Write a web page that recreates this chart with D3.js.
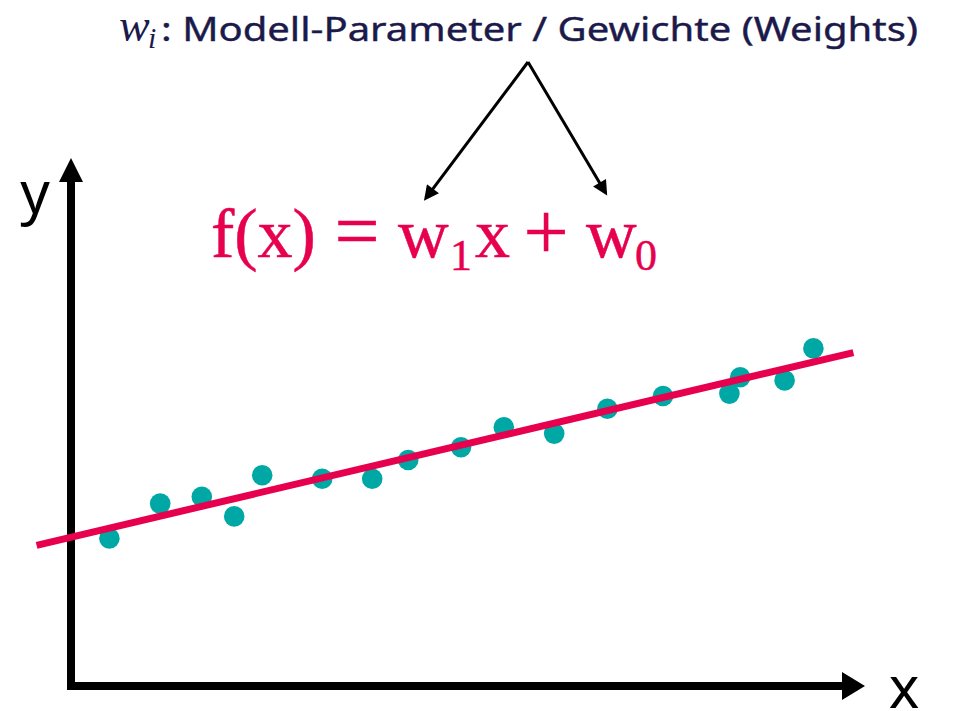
<!DOCTYPE html>
<html>
<head>
<meta charset="utf-8">
<script src="https://cdn.jsdelivr.net/npm/d3@7"></script>
<style>
  html, body { margin: 0; padding: 0; background: #fff; }
  svg { display: block; }
</style>
</head>
<body>
<div id="container"></div>
<script>
// values, in "chart units" (roughly 40px per unit)
const pointsX = [0.96, 2.23, 3.27, 4.08, 4.78, 6.28, 7.53, 8.43, 9.75, 10.82, 12.08, 13.41, 14.80, 16.46, 16.73, 17.84, 18.56];
const pointsY = [3.69, 4.56, 4.73, 4.24, 5.27, 5.18, 5.18, 5.65, 5.97, 6.47, 6.31, 6.93, 7.25, 7.31, 7.72, 7.64, 8.44];

// the fitted line f(x) = w1 * x + w0
const w1 = 0.236;
const w0 = 3.72;
const lineStartEnd = [-0.86, 19.56];

// how far the axis arrows reach
const xAxisEnd = 19.85;
const yAxisEnd = 13.2;

// texts
const titleVar = "w";
const titleSub = "i";
const titleRest = ": Modell-Parameter / Gewichte (Weights)";
const axisLabelX = "x";
const axisLabelY = "y";

// colours
const teal = "#00a8a5";
const crimson = "#e6004e";
const navy = "#1b1a4a";

let w = 953;
let h = 711;

let viz = d3.select("#container")
    .append("svg")
    .attr("width", w)
    .attr("height", h)
;

// scales, same px per unit on both axes
let xScale = d3.scaleLinear().domain([0, 20]).range([71, 871]);
let yScale = d3.scaleLinear().domain([0, 13]).range([686, 166]);

let data = pointsX.map((x, i) => ({x: x, y: pointsY[i]}));

// AXES (just two thick arrows, no ticks)
let axisGroup = viz.append("g").classed("axes", true);
let x0 = xScale(0);
let y0 = yScale(0);
// y axis
axisGroup.append("line")
    .attr("x1", x0).attr("y1", y0 + 4)
    .attr("x2", x0).attr("y2", yScale(yAxisEnd) + 22)
    .attr("stroke", "#000")
    .attr("stroke-width", 8)
;
axisGroup.append("path")
    .attr("d", d3.line()([
        [x0, yScale(yAxisEnd)],
        [x0 + 12, yScale(yAxisEnd) + 24],
        [x0 - 12, yScale(yAxisEnd) + 24]
    ]) + "Z")
    .attr("fill", "#000")
;
// x axis
axisGroup.append("line")
    .attr("x1", x0 - 4).attr("y1", y0)
    .attr("x2", xScale(xAxisEnd) - 21).attr("y2", y0)
    .attr("stroke", "#000")
    .attr("stroke-width", 8)
;
axisGroup.append("path")
    .attr("d", d3.line()([
        [xScale(xAxisEnd), y0],
        [xScale(xAxisEnd) - 23, y0 - 14],
        [xScale(xAxisEnd) - 23, y0 + 14]
    ]) + "Z")
    .attr("fill", "#000")
;

// axis labels
axisGroup.append("text")
    .attr("x", 35)
    .attr("y", 213)
    .attr("text-anchor", "middle")
    .attr("font-family", "'Noto Sans', sans-serif")
    .attr("font-size", 58)
    .attr("fill", "#000")
    .text(axisLabelY)
;
// the x sits right at the bottom edge, like in the original slide
axisGroup.append("text")
    .attr("x", 904)
    .attr("y", 708)
    .attr("text-anchor", "middle")
    .attr("font-family", "'Noto Sans', sans-serif")
    .attr("font-size", 58)
    .attr("fill", "#000")
    .text(axisLabelX)
;

// DATA POINTS
let graphGroup = viz.append("g").classed("graphGroup", true);
graphGroup.selectAll(".datapoint")
    .data(data)
    .enter()
    .append("circle")
    .classed("datapoint", true)
    .attr("cx", d => xScale(d.x))
    .attr("cy", d => yScale(d.y))
    .attr("r", 10.3)
    .attr("fill", teal)
;

// the regression line goes on top of the dots
graphGroup.append("line")
    .attr("x1", xScale(lineStartEnd[0]))
    .attr("y1", yScale(w1 * lineStartEnd[0] + w0))
    .attr("x2", xScale(lineStartEnd[1]))
    .attr("y2", yScale(w1 * lineStartEnd[1] + w0))
    .attr("stroke", crimson)
    .attr("stroke-width", 7)
;

// FORMULA f(x) = w1 x + w0
// a thin stroke in the same colour makes Times look a bit more like Cambria
let formula = viz.append("g").classed("formula", true)
    .attr("font-family", "'Liberation Serif', 'DejaVu Serif', serif")
    .attr("fill", crimson)
    .attr("stroke", crimson)
    .attr("stroke-width", 0.5)
;
let mainSize = 70;
let opSize = 80;
let subSize = 44;
formula.append("text").attr("x", 211).attr("y", 257).attr("font-size", mainSize).text("f(x)");
formula.append("text").attr("x", 357).attr("y", 258).attr("font-size", opSize).attr("text-anchor", "middle").text("=");
formula.append("text").attr("x", 398).attr("y", 257).attr("font-size", mainSize).text("w");
formula.append("text").attr("x", 450).attr("y", 270).attr("font-size", subSize).text("1");
formula.append("text").attr("x", 475).attr("y", 257).attr("font-size", mainSize).text("x");
formula.append("text").attr("x", 546).attr("y", 259).attr("font-size", opSize).attr("text-anchor", "middle").text("+");
formula.append("text").attr("x", 586).attr("y", 257).attr("font-size", mainSize).text("w");
formula.append("text").attr("x", 635).attr("y", 270).attr("font-size", subSize).text("0");

// TITLE  w_i: Modell-Parameter / Gewichte (Weights)
let title = viz.append("g").classed("title", true).attr("fill", navy);
title.append("text")
    .attr("x", 119)
    .attr("y", 41)
    .attr("font-family", "'Liberation Serif', serif")
    .attr("font-style", "italic")
    .attr("font-size", 46)
    .text(titleVar)
;
title.append("text")
    .attr("x", 148)
    .attr("y", 48)
    .attr("font-family", "'Liberation Serif', serif")
    .attr("font-style", "italic")
    .attr("font-size", 30)
    .text(titleSub)
;
title.append("text")
    .attr("x", 161)
    .attr("y", 41)
    .attr("font-family", "'Noto Sans', sans-serif")
    .attr("font-size", 33)
    .attr("stroke", navy)
    .attr("stroke-width", 0.4)
    .attr("textLength", 757)
    .attr("lengthAdjust", "spacingAndGlyphs")
    .text(titleRest)
;

// the two pointer arrows from the title to w1 and w0
let defs = viz.append("defs");
defs.append("marker")
    .attr("id", "head")
    .attr("markerUnits", "userSpaceOnUse")
    .attr("viewBox", "0 0 10 10")
    .attr("refX", 2)
    .attr("refY", 5)
    .attr("markerWidth", 17)
    .attr("markerHeight", 15)
    .attr("orient", "auto")
    .append("path")
    .attr("d", "M0,0 L10,5 L0,10 Z")
    .attr("fill", "#000")
;
let apex = [528, 62];
let targets = [[423, 202], [608, 197]];
viz.append("g").classed("pointers", true)
    .selectAll("line")
    .data(targets)
    .enter()
    .append("line")
    .attr("x1", apex[0])
    .attr("y1", apex[1])
    .attr("x2", d => {
        let len = Math.hypot(d[0] - apex[0], d[1] - apex[1]);
        return d[0] - (d[0] - apex[0]) / len * 13.6;
    })
    .attr("y2", d => {
        let len = Math.hypot(d[0] - apex[0], d[1] - apex[1]);
        return d[1] - (d[1] - apex[1]) / len * 13.6;
    })
    .attr("stroke", "#000")
    .attr("stroke-width", 3)
    .attr("marker-end", "url(#head)")
;
</script>
</body>
</html>
